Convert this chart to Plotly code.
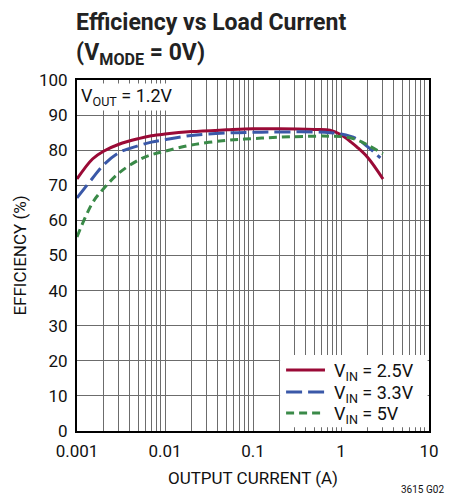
import plotly.graph_objects as go

load_current = [0.001, 0.0015, 0.002, 0.003, 0.005, 0.007, 0.01, 0.02, 0.05, 0.1, 0.2, 0.5, 0.75, 1.0, 1.3, 1.5, 2.0, 3.0]
eff_vin_2v5 = [71.8, 77.5, 79.7, 81.7, 83.3, 84.1, 84.6, 85.3, 85.8, 86.1, 86.1, 85.9, 85.7, 84.4, 82.3, 81.0, 78.0, 71.8]
current_3v3 = [0.001, 0.0015, 0.002, 0.003, 0.005, 0.007, 0.01, 0.02, 0.05, 0.1, 0.2, 0.5, 0.75, 1.0, 1.5, 2.0, 2.8]
eff_vin_3v3 = [66.4, 72.0, 75.8, 79.3, 81.3, 82.3, 83.0, 84.2, 84.9, 85.1, 85.2, 85.2, 85.0, 84.6, 83.3, 81.0, 77.8]
current_5v = [0.001, 0.0015, 0.002, 0.003, 0.005, 0.007, 0.01, 0.02, 0.05, 0.1, 0.2, 0.5, 0.75, 1.0, 1.5, 2.0, 3.0]
eff_vin_5v = [55.3, 65.0, 69.0, 73.5, 77.2, 78.7, 79.7, 81.5, 82.8, 83.3, 83.7, 84.0, 84.0, 83.9, 83.0, 81.5, 79.0]

series_names = ["V<sub>IN</sub> = 2.5V", "V<sub>IN</sub> = 3.3V", "V<sub>IN</sub> = 5V"]
series_colors = ["#9a0a36", "#3a58a8", "#3a8a48"]
series_dashes = ["solid", "16px,6px", "8px,5px"]

x_major = [0.001, 0.01, 0.1, 1, 10]
x_major_text = ["0.001", "0.01", "0.1", "1", "10"]
x_minor = [m * d for d in [0.001, 0.01, 0.1, 1] for m in range(2, 10)]
y_ticks = list(range(0, 101, 10))

FONT = "Roboto, Liberation Sans, sans-serif"

fig = go.Figure()
for xs, ys, name, col, dash in zip([load_current, current_3v3, current_5v],
                                   [eff_vin_2v5, eff_vin_3v3, eff_vin_5v],
                                   series_names, series_colors, series_dashes):
    fig.add_trace(go.Scatter(x=xs, y=ys, mode="lines", name=name, showlegend=False,
                             line=dict(color=col, width=3, dash=dash, shape="spline")))

fig.update_layout(
    width=451, height=498,
    margin=dict(l=77, r=22, t=80, b=67),
    paper_bgcolor="white", plot_bgcolor="white",
    font=dict(family=FONT, size=16, color="#111"),
    showlegend=False,
    xaxis=dict(type="log", range=[-3, 1], tickvals=x_major, ticktext=x_major_text,
               showgrid=True, gridcolor="#6c6c6c", gridwidth=1, automargin=False,
               minor=dict(tickvals=x_minor, showgrid=True, gridcolor="#6c6c6c", gridwidth=1),
               showline=True, linecolor="black", linewidth=2, mirror=True,
               ticks="", tickfont=dict(size=17), ticklabelstandoff=4,
               title=dict(text="OUTPUT CURRENT (A)", font=dict(size=17), standoff=12)),
    yaxis=dict(range=[0, 100], tickvals=y_ticks, showgrid=True, gridcolor="#6c6c6c", gridwidth=1,
               showline=True, linecolor="black", linewidth=2, mirror=True, automargin=False,
               ticks="", tickfont=dict(size=17), zeroline=False, ticklabelstandoff=4,
               title=dict(text="EFFICIENCY (%)", font=dict(size=17), standoff=8)),
)

# legend box (white) with manual entries; traces never enter this region
fig.add_shape(type="rect", xref="paper", yref="paper", x0=0.577, x1=0.996, y0=0.011, y1=0.2165,
              fillcolor="white", line=dict(width=0), layer="above")
legend_rows_y = [0.1738, 0.1111, 0.0513]
for name, col, dash, yy in zip(series_names, series_colors, series_dashes, legend_rows_y):
    fig.add_shape(type="line", xref="paper", yref="paper", x0=0.594, x1=0.7045, y0=yy, y1=yy,
                  line=dict(color=col, width=3, dash=dash), layer="above")
    fig.add_annotation(xref="paper", yref="paper", x=0.7244, y=yy, xanchor="left", yanchor="middle",
                       text=name, showarrow=False, font=dict(size=18), yshift=-2)

fig.add_annotation(xref="paper", yref="paper", x=0.0, y=1.0, xanchor="left", yanchor="top",
                   text="V<sub>OUT</sub> = 1.2V", showarrow=False, bgcolor="white",
                   font=dict(size=18), borderpad=1, xshift=2, yshift=-3)

fig.add_annotation(xref="paper", yref="paper", x=0, y=1, xanchor="left", yanchor="bottom",
                   text="<b>Efficiency vs Load Current</b><br><b>(V<sub>MODE</sub> = 0V)</b>",
                   showarrow=False, align="left", font=dict(size=23, color="#222"), yshift=9, xshift=-3)

fig.add_annotation(xref="paper", yref="paper", x=1, y=0, xanchor="right", yanchor="top",
                   text="3615 G02", showarrow=False, font=dict(size=10), yshift=-51, xshift=17)

fig.write_html("out.html", config={"displayModeBar": False},
               post_script="document.body.style.margin='0px';")
